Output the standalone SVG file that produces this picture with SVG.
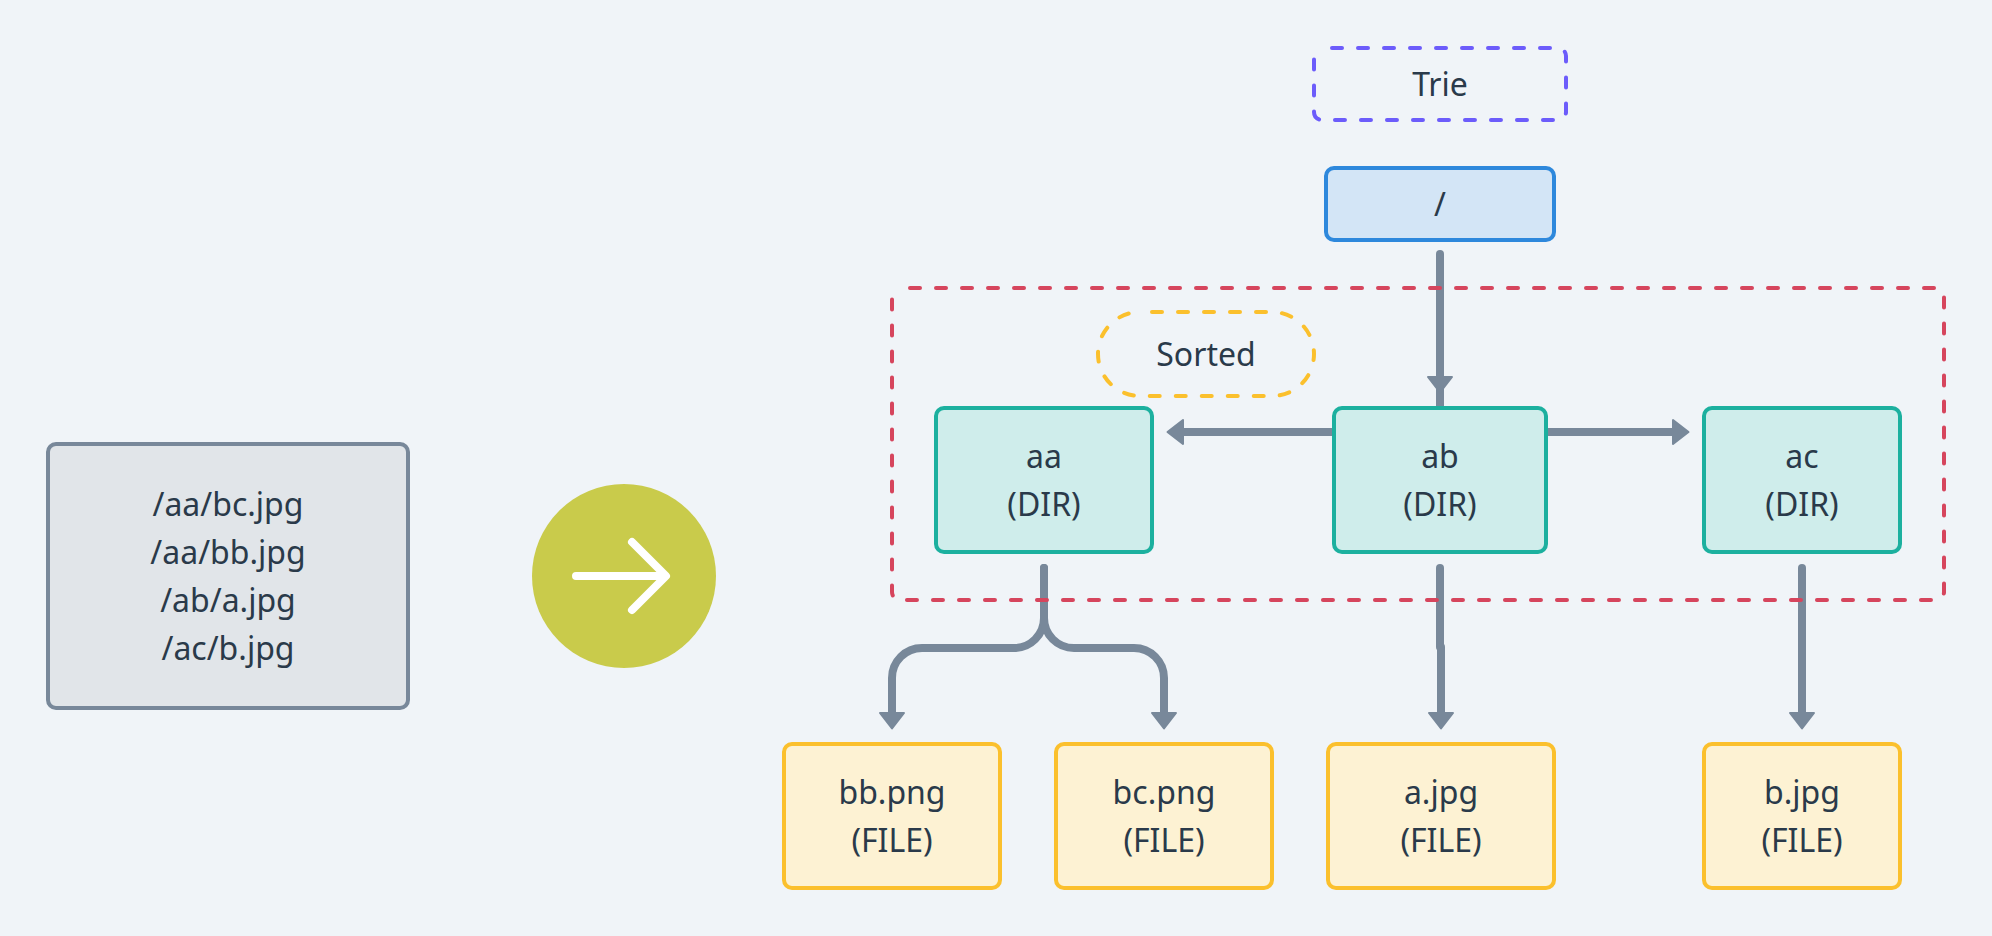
<svg xmlns="http://www.w3.org/2000/svg" width="1992" height="936" viewBox="0 0 1992 936">
<style>
text{font-family:"Noto Sans","DejaVu Sans",sans-serif;font-size:32px;fill:#2A3A4A;text-anchor:middle}
.box{stroke-width:4}
.gray{fill:#E1E5E9;stroke:#78889A}
.blue{fill:#D3E5F6;stroke:#2E88DC}
.teal{fill:#CFEDEB;stroke:#1CB09F}
.file{fill:#FDF2D3;stroke:#FBC02D}
.dash{fill:none;stroke-width:4;stroke-linecap:round;stroke-dasharray:10 16}
.conn{fill:none;stroke:#78889A;stroke-width:8;stroke-linecap:round}
</style>
<defs>
<marker id="head" markerUnits="userSpaceOnUse" viewBox="-2 -16 24 32" refX="4" refY="0" markerWidth="24" markerHeight="32" orient="auto">
<polygon points="1,-12 1,12 16.5,0" fill="#78889A" stroke="#78889A" stroke-width="2" stroke-linejoin="round"/>
</marker>
</defs>
<rect width="1992" height="936" fill="#F0F4F8"/>
<g id="connectors">
<path class="conn" marker-mid="url(#head)" d="M1440 254V380V408"/>
<path class="conn" marker-end="url(#head)" d="M1332 432H1180" style="stroke-linecap:butt"/>
<path class="conn" marker-end="url(#head)" d="M1546 432H1676" style="stroke-linecap:butt"/>
<path class="conn" marker-end="url(#head)" d="M1044 568V618A30 30 0 0 1 1014 648H922A30 30 0 0 0 892 678V716"/>
<path class="conn" marker-end="url(#head)" d="M1044 568V618A30 30 0 0 0 1074 648H1134A30 30 0 0 1 1164 678V716"/>
<path class="conn" d="M1440 568V647"/>
<path class="conn" marker-end="url(#head)" d="M1441 647V716"/>
<path class="conn" marker-end="url(#head)" d="M1802 568V716"/>
</g>
<g id="source"><rect class="box gray" x="48" y="444" width="360" height="264" rx="8"/>
<text x="228" y="516">/aa/bc.jpg</text><text x="228" y="564">/aa/bb.jpg</text><text x="228" y="612">/ab/a.jpg</text><text x="228" y="660">/ac/b.jpg</text></g>
<g id="convert"><circle cx="624" cy="576" r="92" fill="#C9CB4B"/>
<path d="M576 576H665M632 542L666 576L632 610" fill="none" stroke="#FFFFFF" stroke-width="8" stroke-linecap="round" stroke-linejoin="round"/></g>
<g id="trie-label"><path class="dash" stroke="#6C5CFB" d="M1332 48H1558A8 8 0 0 1 1566 56V112A8 8 0 0 1 1558 120H1322A8 8 0 0 1 1314 112V56A8 8 0 0 1 1319.5 48.5"/>
<text x="1440" y="96">Trie</text></g>
<g id="root"><rect class="box blue" x="1326" y="168" width="228" height="72" rx="8"/><text x="1440" y="216">/</text></g>
<g id="sorted-group"><path class="dash" stroke="#D6455D" d="M910 288H1936A8 8 0 0 1 1944 296V592A8 8 0 0 1 1936 600H900A8 8 0 0 1 892 592V296A8 8 0 0 1 897.5 288.5"/></g>
<g id="sorted-label"><path class="dash" stroke="#FBC02D" d="M1152 312H1272A42 42 0 0 1 1272 396H1140A42 42 0 0 1 1140 312"/>
<text x="1206" y="366">Sorted</text></g>
<g id="aa"><rect class="box teal" x="936" y="408" width="216" height="144" rx="8"/><text x="1044" y="468">aa</text><text x="1044" y="516">(DIR)</text></g>
<g id="ab"><rect class="box teal" x="1334" y="408" width="212" height="144" rx="8"/><text x="1440" y="468">ab</text><text x="1440" y="516">(DIR)</text></g>
<g id="ac"><rect class="box teal" x="1704" y="408" width="196" height="144" rx="8"/><text x="1802" y="468">ac</text><text x="1802" y="516">(DIR)</text></g>
<g id="bb"><rect class="box file" x="784" y="744" width="216" height="144" rx="8"/><text x="892" y="804">bb.png</text><text x="892" y="852">(FILE)</text></g>
<g id="bc"><rect class="box file" x="1056" y="744" width="216" height="144" rx="8"/><text x="1164" y="804">bc.png</text><text x="1164" y="852">(FILE)</text></g>
<g id="a"><rect class="box file" x="1328" y="744" width="226" height="144" rx="8"/><text x="1441" y="804">a.jpg</text><text x="1441" y="852">(FILE)</text></g>
<g id="b"><rect class="box file" x="1704" y="744" width="196" height="144" rx="8"/><text x="1802" y="804">b.jpg</text><text x="1802" y="852">(FILE)</text></g>
</svg>
